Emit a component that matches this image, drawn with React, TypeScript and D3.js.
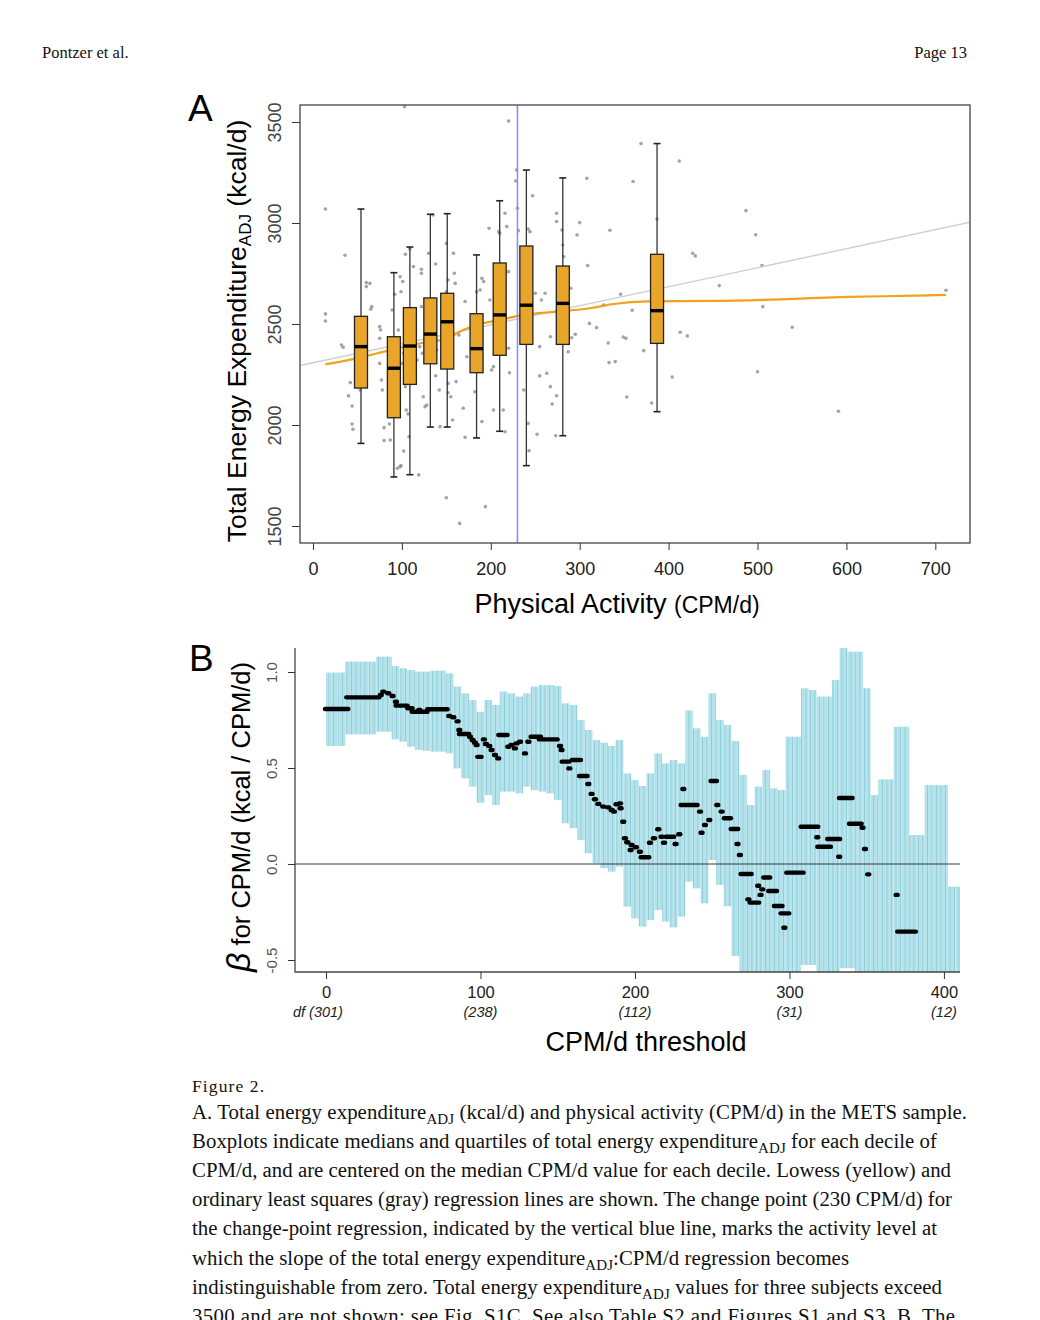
import { useEffect, useRef } from 'react'
import * as d3 from 'd3'

// ---------- Panel A: TEE_ADJ against CPM/d ----------
const decileCpm = [54, 91, 109, 132, 151, 184, 210, 240, 281, 387]
const whiskerLow = [1909, 1743, 1754, 1990, 1990, 1936, 1969, 1799, 1947, 2066]
const quartile1 = [2183, 2036, 2201, 2303, 2277, 2259, 2345, 2399, 2399, 2404]
const medians = [2388, 2281, 2391, 2450, 2511, 2378, 2545, 2593, 2602, 2566]
const quartile3 = [2538, 2437, 2581, 2629, 2652, 2551, 2802, 2886, 2787, 2845]
const whiskerHigh = [3069, 2754, 2881, 3043, 3046, 2842, 3110, 3262, 3223, 3393]

const scatterCpm = [
  103, 14, 36, 14, 14, 32, 34, 42, 40, 44, 44, 45, 53, 60, 64, 60, 66, 65, 75, 76,
  75, 75, 77, 78, 80, 80, 86, 87, 89, 92, 98, 101, 99, 96, 96, 102, 101, 104, 105, 107,
  102, 98, 95, 99, 108, 104, 109, 113, 119, 113, 117, 122, 122, 122, 120, 123, 124, 126, 128, 130,
  135, 138, 138, 139, 142, 143, 150, 152, 150, 152, 152, 155, 158, 159, 160, 161, 157, 164, 171, 169,
  171, 150, 165, 173, 180, 182, 184, 188, 190, 192, 190, 194, 198, 199, 201, 203, 203, 207, 209, 210,
  216, 218, 220, 220, 221, 214, 216, 220, 229, 228, 230, 231, 237, 242, 243, 242, 244, 247, 250, 252,
  255, 255, 257, 261, 263, 267, 267, 269, 274, 274, 274, 273, 280, 281, 282, 284, 285, 290, 291, 287,
  295, 297, 300, 308, 309, 311, 369, 412, 360, 334, 487, 498, 427, 430, 505, 457, 346, 327, 359, 506,
  319, 349, 352, 332, 413, 421, 372, 539, 333, 340, 404, 500, 353, 381, 591, 712, 387,
]
const scatterTee = [
  3575, 3069, 2840, 2550, 2515, 2396, 2385, 2210, 2144, 2094, 2005, 1979, 2173, 2705, 2701, 2685, 2586, 2573, 2487, 2470,
  2429, 2305, 2223, 2173, 1987, 1923, 2005, 1926, 2569, 2647, 2734, 2710, 2660, 2470, 2421, 2355, 2305, 2190, 2074, 2055,
  1871, 1794, 1786, 1799, 1942, 2845, 2871, 2784, 1753, 2512, 2322, 2771, 2751, 2586, 2388, 2355, 2140, 2091, 2099, 2850,
  3040, 2797, 2244, 2371, 2173, 1992, 2899, 2718, 2660, 2206, 2160, 2140, 2850, 2751, 2701, 2215, 2025, 2446, 2611, 2083,
  1939, 1640, 1513, 2338, 2454, 2165, 2660, 2668, 2726, 2710, 2017, 1596, 2974, 2619, 2272, 2289, 2074, 2685, 2957, 2949,
  3048, 2982, 2759, 2380, 2259, 2074, 1967, 3505, 3262, 3208, 3073, 2962, 2173, 2008, 1873, 2970, 2957, 3135, 2652, 1954,
  2388, 2243, 2619, 2652, 2256, 2437, 2190, 2104, 3048, 3007, 2145, 1947, 2965, 2891, 2833, 2759, 2635, 2677, 2432, 2363,
  2449, 2941, 3002, 3221, 2789, 2503, 3393, 3307, 3205, 2964, 3061, 2942, 2850, 2837, 2789, 2690, 2647, 2594, 2568, 2586,
  2482, 2436, 2429, 2406, 2459, 2441, 2368, 2484, 2309, 2314, 2238, 2264, 2139, 2109, 2068, 2667, 3020,
]

const lowessCpm = [14, 49, 87, 124, 151, 169, 184, 210, 237, 274, 312, 338, 376, 451, 526, 601, 676, 712]
const lowessTee = [2300, 2330, 2371, 2407, 2429, 2470, 2495, 2520, 2545, 2561, 2578, 2599, 2612, 2614, 2622, 2634, 2640, 2644]
const olsIntercept = 2308
const olsSlope = 0.941
const changePoint = 230

const teeTicks = [1500, 2000, 2500, 3000, 3500]
const cpmTicks = [0, 100, 200, 300, 400, 500, 600, 700]

// ---------- Panel B: beta for CPM/d by threshold ----------
const thresholds = [
  0, 5, 10, 15, 20, 25, 30, 35, 40, 45, 50, 55, 60, 65, 70, 75, 80, 85, 90, 95,
  100, 105, 110, 115, 120, 125, 130, 135, 140, 145, 150, 155, 160, 165, 170, 175, 180, 185, 190, 195,
  200, 205, 210, 215, 220, 225, 230, 235, 240, 245, 250, 255, 260, 265, 270, 275, 280, 285, 290, 295,
  300, 305, 310, 315, 320, 325, 330, 335, 340, 345, 350, 355, 360, 365, 370, 375, 380, 385, 390, 395,
  400, 405, 410,
]
const ciUpper = [
  0.997, 0.997, 0.997, 1.054, 1.054, 1.054, 1.054, 1.08, 1.08, 1.031, 1.019, 1.01, 1.002, 1.002, 1.007, 1.007, 0.993, 0.924, 0.889, 0.854,
  0.793, 0.854, 0.828, 0.898, 0.889, 0.872, 0.889, 0.924, 0.932, 0.932, 0.927, 0.837, 0.828, 0.75, 0.698, 0.646, 0.632, 0.615, 0.646, 0.472,
  0.438, 0.406, 0.472, 0.576, 0.524, 0.542, 0.524, 0.8, 0.707, 0.663, 0.889, 0.75, 0.724, 0.64, 0.464, 0.307, 0.403, 0.49, 0.394, 0.385,
  0.663, 0.663, 0.915, 0.906, 0.872, 0.872, 0.958, 1.128, 1.106, 1.106, 0.915, 0.359, 0.441, 0.441, 0.715, 0.715, 0.151, 0.151, 0.411, 0.411,
  0.411, -0.118, -0.118,
]
const ciLower = [
  0.615, 0.615, 0.615, 0.675, 0.675, 0.675, 0.675, 0.689, 0.689, 0.649, 0.637, 0.611, 0.594, 0.59, 0.585, 0.585, 0.576, 0.498, 0.446, 0.403,
  0.319, 0.359, 0.307, 0.377, 0.377, 0.368, 0.403, 0.385, 0.377, 0.368, 0.333, 0.212, 0.186, 0.125, 0.056, 0.004, -0.022, -0.04, -0.014, -0.222,
  -0.283, -0.326, -0.292, -0.24, -0.3, -0.33, -0.274, -0.092, -0.127, -0.205, 0.021, -0.109, -0.22, -0.48, -0.65, -0.65, -0.65, -0.65, -0.65, -0.65,
  -0.65, -0.65, -0.526, -0.526, -0.65, -0.65, -0.65, -0.543, -0.543, -0.65, -0.65, -0.65, -0.65, -0.65, -0.65, -0.65, -0.65, -0.65, -0.65, -0.65,
  -0.65, -0.65, -0.65,
]

// runs of identical beta estimates (threshold from, threshold to, beta)
const betaFrom = [
  0, 13.8, 35.5, 37.1, 40.3, 43.1, 45.3, 45.7, 53.3, 56.1, 60.4, 66.2, 79.8, 82.4, 85.2, 86.3, 86.7, 93.2, 94.9, 96.4,
  97.5, 98.6, 102.2, 103.5, 105.7, 107.2, 109.4, 111.5, 112.2, 118, 120.1, 123.4, 122.3, 125.6, 128.8, 131, 133.1, 138.5, 151.5, 152.5,
  153.2, 157.5, 159.7, 164.4, 169.8, 171.9, 174.1, 176.3, 179.5, 182.7, 184.9, 186.4, 188.1, 190.3, 190.7, 192.4, 193.5, 195, 197.2, 197.8,
  200.6, 203.2, 204.3, 209.7, 212.3, 215.1, 217.2, 218.8, 220.5, 226.3, 228.7, 230.2, 231.3, 232.3, 242.1, 243.1, 245.3, 248.1, 249.6, 253.3,
  256.1, 258.2, 262.6, 266.4, 267.9, 269, 273.4, 274.9, 279.8, 281.3, 282.4, 283.7, 286.9, 290.6, 294.9, 296.7, 298.6, 307.9, 318, 318.7,
  325.1, 332.2, 332.7, 339.2, 347.3, 348.9, 351, 358.6, 369.4, 370.4,
]
const betaTo = [
  13.8, 33.9, 35.5, 37.1, 40.3, 43.1, 45.3, 52.2, 55.4, 65.1, 60.4, 78.1, 79.8, 82.4, 85.2, 86.3, 92.1, 93.2, 94.9, 96.4,
  97.5, 100.1, 102.2, 103.5, 105.7, 107.2, 109.4, 111.5, 116.9, 118, 120.1, 123.4, 122.3, 125.6, 128.8, 131, 138.5, 149.3, 151.5, 152.5,
  156.9, 157.5, 164.4, 168.7, 169.8, 171.9, 174.1, 176.3, 179.5, 182.7, 184.9, 186.4, 188.1, 190.3, 190.7, 192.4, 193.5, 195, 197.2, 197.8,
  200.6, 203.2, 208.6, 209.7, 212.3, 215.1, 217.2, 218.8, 224.8, 226.3, 228.7, 230.2, 231.3, 239.9, 242.1, 243.1, 245.3, 248.1, 252.4, 253.3,
  256.1, 261.5, 266.2, 266.4, 267.9, 274.9, 273.4, 279.8, 279.8, 281.3, 282.4, 286.9, 291.3, 294.9, 299.2, 296.7, 308.5, 318, 318, 326.2,
  332.2, 332.2, 340.2, 346.1, 347.3, 348.9, 351, 368.3, 369.4, 381.2,
]
const betaValue = [
  0.807, 0.868, 0.88, 0.898, 0.889, 0.875, 0.845, 0.825, 0.811, 0.793, 0.802, 0.806, 0.771, 0.764, 0.743, 0.698, 0.677, 0.663, 0.646, 0.632,
  0.62, 0.558, 0.649, 0.625, 0.615, 0.594, 0.568, 0.55, 0.672, 0.611, 0.62, 0.628, 0.602, 0.637, 0.576, 0.637, 0.663, 0.649, 0.615, 0.594,
  0.533, 0.498, 0.542, 0.458, 0.417, 0.365, 0.337, 0.313, 0.299, 0.295, 0.281, 0.273, 0.311, 0.316, 0.29, 0.22, 0.134, 0.113, 0.073, 0.099,
  0.087, 0.064, 0.035, 0.111, 0.134, 0.181, 0.142, 0.111, 0.142, 0.104, 0.155, 0.307, 0.391, 0.307, 0.273, 0.163, 0.203, 0.229, 0.432, 0.307,
  0.273, 0.238, 0.182, 0.104, 0.047, -0.052, -0.184, -0.201, -0.113, -0.161, -0.132, -0.07, -0.141, -0.219, -0.257, -0.332, -0.045, 0.194, 0.139, 0.09,
  0.13, 0.038, 0.344, 0.21, 0.189, 0.078, -0.054, -0.58, -0.161, -0.352,
]

const betaTicks = [-0.5, 0, 0.5, 1]
const thresholdTicks = [0, 100, 200, 300, 400]
const dfLabels = ['(301)', '(238)', '(112)', '(31)', '(12)']

// ---------- caption ----------
const captionLines: Array<Array<[string, boolean]>> = [
  [['A. Total energy expenditure', false], ['ADJ', true], [' (kcal/d) and physical activity (CPM/d) in the METS sample.', false]],
  [['Boxplots indicate medians and quartiles of total energy expenditure', false], ['ADJ', true], [' for each decile of', false]],
  [['CPM/d, and are centered on the median CPM/d value for each decile. Lowess (yellow) and', false]],
  [['ordinary least squares (gray) regression lines are shown. The change point (230 CPM/d) for', false]],
  [['the change-point regression, indicated by the vertical blue line, marks the activity level at', false]],
  [['which the slope of the total energy expenditure', false], ['ADJ', true], [':CPM/d regression becomes', false]],
  [['indistinguishable from zero. Total energy expenditure', false], ['ADJ', true], [' values for three subjects exceed', false]],
  [['3500 and are not shown; see Fig. S1C. See also Table S2 and Figures S1 and S3. B. The', false]],
]
const captionWidths = [775, 745, 759, 760, 745, 657, 750, 763]

const SANS = '"Liberation Sans", Arial, Helvetica, sans-serif'
const SERIF = '"Liberation Serif", "Times New Roman", serif'

export default function App() {
  const svgRef = useRef<SVGSVGElement>(null)

  useEffect(() => {
    if (!svgRef.current) return
    const svg = d3.select(svgRef.current)
    svg.selectAll('*').remove()

    const defs = svg.append('defs')

    // page header
    svg.append('text').attr('x', 42).attr('y', 58)
      .style('font-family', SERIF).style('font-size', '16.5px').attr('fill', '#111')
      .text('Pontzer et al.')
    svg.append('text').attr('x', 967).attr('y', 58).attr('text-anchor', 'end')
      .style('font-family', SERIF).style('font-size', '16.5px').attr('fill', '#111')
      .text('Page 13')

    // ================= Panel A =================
    const xA = d3.scaleLinear().domain([-14.6, 739]).range([300, 970])
    const yA = d3.scaleLinear().domain([1416, 3584]).range([543, 105])

    defs.append('clipPath').attr('id', 'clipA').append('rect')
      .attr('x', 300).attr('y', 105).attr('width', 670).attr('height', 438)

    const gA = svg.append('g').attr('clip-path', 'url(#clipA)')

    gA.selectAll('circle.pt')
      .data(scatterCpm.map((c, i) => ({ c, t: scatterTee[i] })))
      .join('circle')
      .attr('class', 'pt')
      .attr('cx', d => xA(d.c))
      .attr('cy', d => yA(d.t))
      .attr('r', 1.8)
      .attr('fill', '#858585')
      .attr('fill-opacity', 0.75)

    const [x0, x1] = xA.domain()
    gA.append('line')
      .attr('x1', xA(x0)).attr('y1', yA(olsIntercept + olsSlope * x0))
      .attr('x2', xA(x1)).attr('y2', yA(olsIntercept + olsSlope * x1))
      .attr('stroke', '#cfcfcf').attr('stroke-width', 1.4)

    const lowessLine = d3.line<number>()
      .x((_, i) => xA(lowessCpm[i]))
      .y(d => yA(d))
      .curve(d3.curveMonotoneX)
    gA.append('path')
      .datum(lowessTee)
      .attr('d', lowessLine)
      .attr('fill', 'none')
      .attr('stroke', '#F0A21E')
      .attr('stroke-width', 2.2)

    gA.append('line')
      .attr('x1', xA(changePoint)).attr('x2', xA(changePoint))
      .attr('y1', 105).attr('y2', 543)
      .attr('stroke', '#8e90f0').attr('stroke-width', 1.6)

    const boxW = 13
    decileCpm.forEach((c, i) => {
      const cx = xA(c)
      const g = gA.append('g')
      g.append('line').attr('x1', cx).attr('x2', cx)
        .attr('y1', yA(whiskerHigh[i])).attr('y2', yA(quartile3[i]))
        .attr('stroke', '#333').attr('stroke-width', 1.3)
      g.append('line').attr('x1', cx).attr('x2', cx)
        .attr('y1', yA(quartile1[i])).attr('y2', yA(whiskerLow[i]))
        .attr('stroke', '#333').attr('stroke-width', 1.3)
      ;[whiskerHigh[i], whiskerLow[i]].forEach(v => {
        g.append('line').attr('x1', cx - 3.5).attr('x2', cx + 3.5)
          .attr('y1', yA(v)).attr('y2', yA(v))
          .attr('stroke', '#222').attr('stroke-width', 1.6)
      })
      g.append('rect')
        .attr('x', cx - boxW / 2).attr('width', boxW)
        .attr('y', yA(quartile3[i])).attr('height', yA(quartile1[i]) - yA(quartile3[i]))
        .attr('fill', '#E9A42A').attr('stroke', '#222').attr('stroke-width', 1.3)
      g.append('line').attr('x1', cx - boxW / 2).attr('x2', cx + boxW / 2)
        .attr('y1', yA(medians[i])).attr('y2', yA(medians[i]))
        .attr('stroke', '#000').attr('stroke-width', 3.4)
    })

    svg.append('rect').attr('x', 300).attr('y', 105).attr('width', 670).attr('height', 438)
      .attr('fill', 'none').attr('stroke', '#444').attr('stroke-width', 1.3)

    const axBottomA = svg.append('g')
      .attr('transform', 'translate(0,543)')
      .attr('color', '#333')
      .call(d3.axisBottom(xA).tickValues(cpmTicks).tickSize(7).tickSizeOuter(0).tickPadding(12).tickFormat(d3.format('d')))
    axBottomA.select('.domain').remove()
    axBottomA.selectAll('text')
      .style('font-family', SANS).style('font-size', '18px').attr('fill', '#222')

    const axLeftA = svg.append('g')
      .attr('transform', 'translate(300,0)')
      .attr('color', '#333')
      .call(d3.axisLeft(yA).tickValues(teeTicks).tickSize(8).tickSizeOuter(0).tickFormat(d3.format('d')))
    axLeftA.select('.domain').remove()
    axLeftA.selectAll('text')
      .attr('x', null).attr('dy', null)
      .attr('transform', 'translate(-19,0) rotate(-90)')
      .attr('text-anchor', 'middle')
      .style('font-family', SANS).style('font-size', '18px').attr('fill', '#444')

    svg.append('text').attr('x', 188).attr('y', 121)
      .style('font-family', SANS).style('font-size', '37px').attr('fill', '#000').text('A')

    const xTitleA = svg.append('text').attr('x', 617).attr('y', 613).attr('text-anchor', 'middle')
      .style('font-family', SANS).attr('fill', '#000')
    xTitleA.append('tspan').style('font-size', '27px').text('Physical Activity ')
    xTitleA.append('tspan').style('font-size', '23px').text('(CPM/d)')

    const yTitleA = svg.append('text').attr('transform', 'translate(246,331) rotate(-90)')
      .attr('text-anchor', 'middle')
      .style('font-family', SANS).style('font-size', '26.5px').attr('fill', '#000')
    yTitleA.append('tspan').text('Total Energy Expenditure')
    yTitleA.append('tspan').style('font-size', '17px').attr('dy', 5).text('ADJ')
    yTitleA.append('tspan').attr('dy', -5).text(' (kcal/d)')

    // ================= Panel B =================
    const xB = d3.scaleLinear().domain([-20.06, 410.4]).range([295, 960])
    const yB = d3.scaleLinear().domain([-0.5625, 1.125]).range([972, 648])

    defs.append('clipPath').attr('id', 'clipB').append('rect')
      .attr('x', 295).attr('y', 648).attr('width', 665).attr('height', 324)

    const stripes = defs.append('pattern').attr('id', 'ciStripes')
      .attr('patternUnits', 'userSpaceOnUse').attr('width', 4.5).attr('height', 10)
    stripes.append('rect').attr('width', 4.5).attr('height', 10).attr('fill', '#B5E3EB')
    stripes.append('rect').attr('width', 0.9).attr('height', 10).attr('fill', '#90CCD9')

    const gB = svg.append('g').attr('clip-path', 'url(#clipB)')

    gB.selectAll('rect.ci')
      .data(thresholds.map((t, i) => ({ t, lo: ciLower[i], hi: ciUpper[i] })))
      .join('rect')
      .attr('class', 'ci')
      .attr('x', d => xB(Math.max(0, d.t - 2.5)))
      .attr('width', d => xB(d.t + 2.5) - xB(Math.max(0, d.t - 2.5)))
      .attr('y', d => yB(d.hi))
      .attr('height', d => yB(d.lo) - yB(d.hi))
      .attr('fill', 'url(#ciStripes)')

    gB.append('line')
      .attr('x1', 295).attr('x2', 960)
      .attr('y1', yB(0)).attr('y2', yB(0))
      .attr('stroke', '#3a3a3a').attr('stroke-width', 1.1)

    gB.selectAll('line.beta')
      .data(betaFrom.map((f, i) => ({ f, t: betaTo[i], v: betaValue[i] })))
      .join('line')
      .attr('class', 'beta')
      .attr('x1', d => xB(d.f) - 1)
      .attr('x2', d => xB(d.t) + 1)
      .attr('y1', d => yB(d.v))
      .attr('y2', d => yB(d.v))
      .attr('stroke', '#000')
      .attr('stroke-width', 4.4)
      .attr('stroke-linecap', 'round')

    svg.append('path').attr('d', 'M295,648 V972 H960')
      .attr('fill', 'none').attr('stroke', '#444').attr('stroke-width', 1.3)

    const axBottomB = svg.append('g')
      .attr('transform', 'translate(0,972)')
      .attr('color', '#333')
      .call(d3.axisBottom(xB).tickValues(thresholdTicks).tickSize(7).tickSizeOuter(0).tickPadding(7).tickFormat(d3.format('d')))
    axBottomB.select('.domain').remove()
    axBottomB.selectAll('text')
      .style('font-family', SANS).style('font-size', '16.5px').attr('fill', '#222')

    svg.append('g').selectAll('text')
      .data(dfLabels)
      .join('text')
      .attr('x', (_, i) => xB(thresholdTicks[i]))
      .attr('y', 1017)
      .attr('text-anchor', 'middle')
      .style('font-family', SANS).style('font-size', '14.5px').style('font-style', 'italic')
      .attr('fill', '#222')
      .text(d => d)
    svg.append('text').attr('x', xB(0) - 21).attr('y', 1017).attr('text-anchor', 'end')
      .style('font-family', SANS).style('font-size', '14.5px').style('font-style', 'italic')
      .attr('fill', '#222').text('df')

    const axLeftB = svg.append('g')
      .attr('transform', 'translate(295,0)')
      .attr('color', '#333')
      .call(d3.axisLeft(yB).tickValues(betaTicks).tickSize(7).tickSizeOuter(0).tickFormat(d => (+d).toFixed(1)))
    axLeftB.select('.domain').remove()
    axLeftB.selectAll('text')
      .attr('x', null).attr('dy', null)
      .attr('transform', 'translate(-18,0) rotate(-90)')
      .attr('text-anchor', 'middle')
      .style('font-family', SANS).style('font-size', '15px').attr('fill', '#555')

    svg.append('text').attr('x', 189).attr('y', 671)
      .style('font-family', SANS).style('font-size', '37px').attr('fill', '#000').text('B')

    svg.append('text').attr('x', 646).attr('y', 1051).attr('text-anchor', 'middle')
      .style('font-family', SANS).style('font-size', '27px').attr('fill', '#000')
      .text('CPM/d threshold')

    const yTitleB = svg.append('text').attr('transform', 'translate(250,817) rotate(-90)')
      .attr('text-anchor', 'middle')
      .style('font-family', SANS).style('font-size', '25.5px').attr('fill', '#000')
    yTitleB.append('tspan').style('font-size', '34px').style('font-style', 'italic').text('β')
    yTitleB.append('tspan').text('  for CPM/d (kcal / CPM/d)')

    // ================= caption =================
    svg.append('text').attr('x', 192).attr('y', 1092)
      .attr('textLength', 72).attr('lengthAdjust', 'spacing')
      .style('font-family', SERIF).style('font-size', '17.5px').attr('fill', '#111')
      .text('Figure 2.')

    captionLines.forEach((parts, li) => {
      const t = svg.append('text')
        .attr('x', 192).attr('y', 1119 + li * 29.1)
        .attr('textLength', captionWidths[li]).attr('lengthAdjust', 'spacing')
        .style('font-family', SERIF).style('font-size', '20.8px').attr('fill', '#111')
      let shifted = false
      parts.forEach(([txt, sub]) => {
        const span = t.append('tspan').text(txt)
        if (sub) {
          span.style('font-size', '15px').attr('dy', 5)
          shifted = true
        } else if (shifted) {
          span.attr('dy', -5)
          shifted = false
        }
      })
    })
  }, [])

  return (
    <svg
      ref={svgRef}
      width={1040}
      height={1320}
      style={{ position: 'absolute', left: 0, top: 0, background: '#fff' }}
    />
  )
}
